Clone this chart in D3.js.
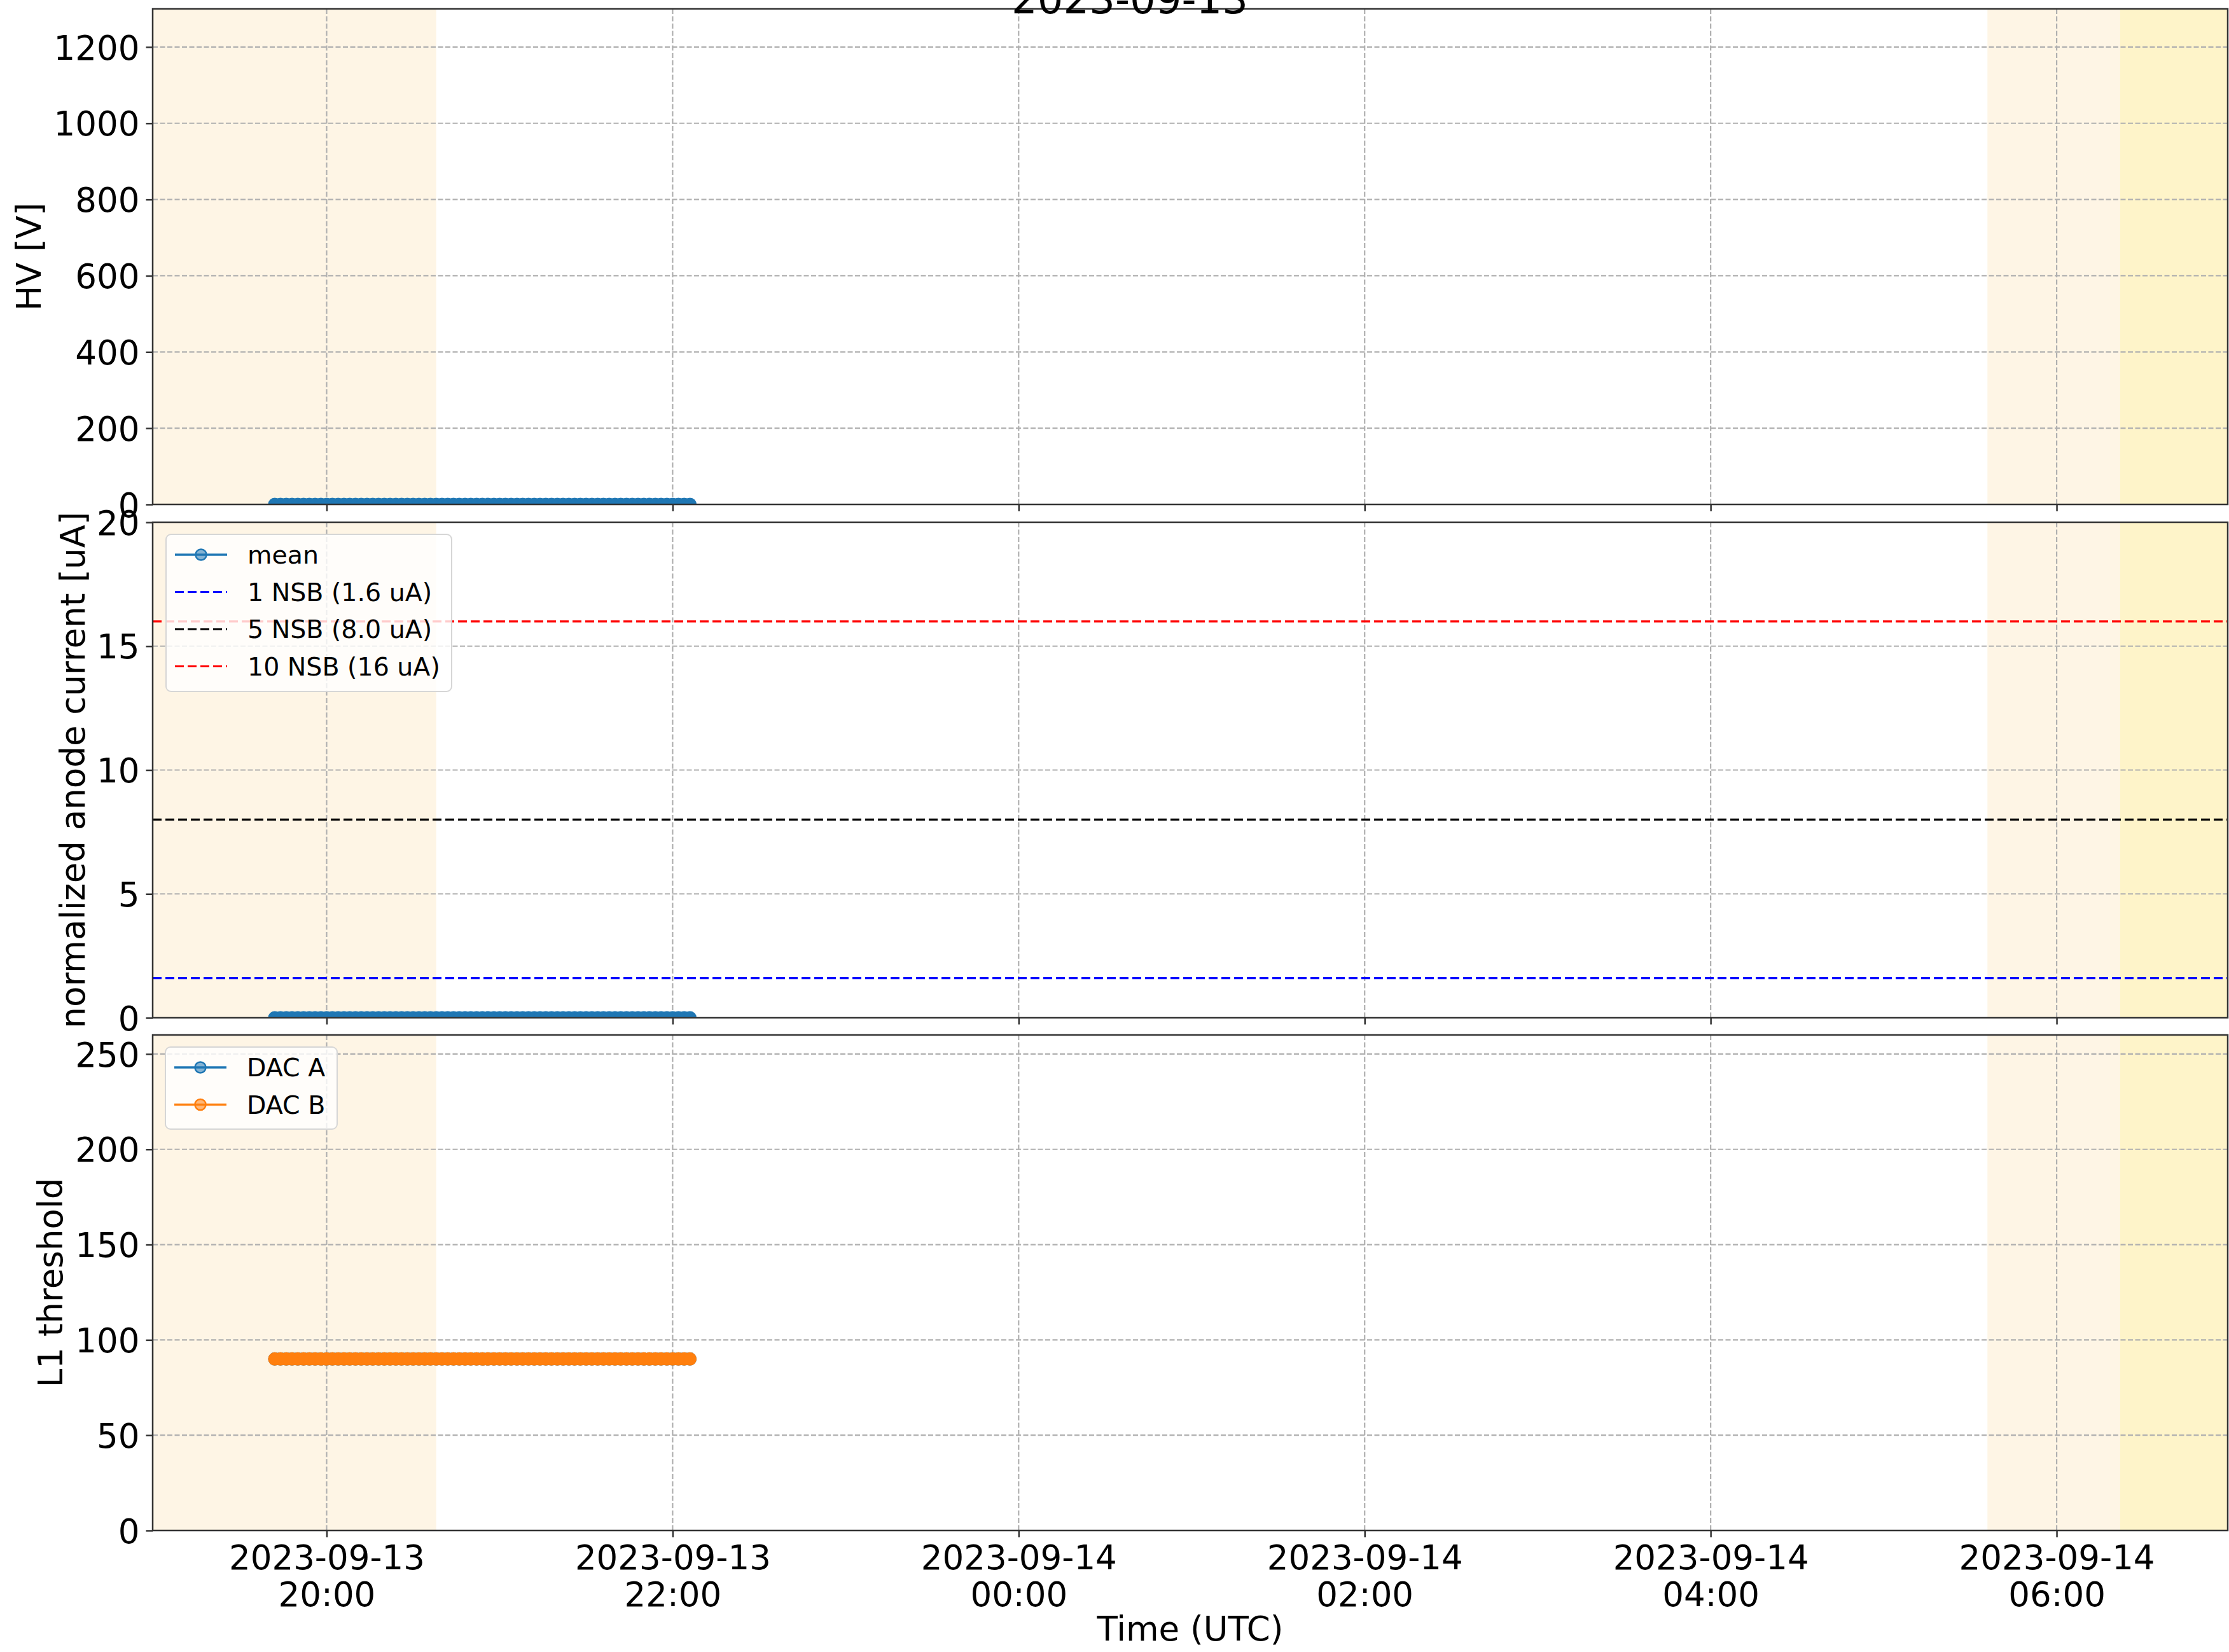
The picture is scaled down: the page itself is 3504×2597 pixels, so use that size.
<!DOCTYPE html>
<html><head><meta charset="utf-8">
<script src="https://cdn.jsdelivr.net/npm/d3@7"></script>
<style>body{margin:0;background:#fff;} svg{display:block;font-family:"DejaVu Sans",sans-serif;}</style>
</head><body><svg id="c" width="3504" height="2597"></svg>
<script>
// ---------------- data ----------------
const titleText = "2023-09-13";
const sampleDate = "2023-09-13";
const sampleTimes = [
  "19:42","19:44","19:46","19:48","19:50","19:52","19:54","19:56","19:58",
  "20:00","20:02","20:04","20:06","20:08","20:10","20:12","20:14","20:16","20:18",
  "20:20","20:22","20:24","20:26","20:28","20:30","20:32","20:34","20:36","20:38",
  "20:40","20:42","20:44","20:46","20:48","20:50","20:52","20:54","20:56","20:58",
  "21:00","21:02","21:04","21:06","21:08","21:10","21:12","21:14","21:16","21:18",
  "21:20","21:22","21:24","21:26","21:28","21:30","21:32","21:34","21:36","21:38",
  "21:40","21:42","21:44","21:46","21:48","21:50","21:52","21:54","21:56","21:58",
  "22:00","22:02","22:04","22:06"
];
const hvMean = [
  0,0,0,0,0,0,0,0,0,
  0,0,0,0,0,0,0,0,0,0,
  0,0,0,0,0,0,0,0,0,0,
  0,0,0,0,0,0,0,0,0,0,
  0,0,0,0,0,0,0,0,0,0,
  0,0,0,0,0,0,0,0,0,0,
  0,0,0,0,0,0,0,0,0,0,
  0,0,0,0
];
const currentMean = [
  0,0,0,0,0,0,0,0,0,
  0,0,0,0,0,0,0,0,0,0,
  0,0,0,0,0,0,0,0,0,0,
  0,0,0,0,0,0,0,0,0,0,
  0,0,0,0,0,0,0,0,0,0,
  0,0,0,0,0,0,0,0,0,0,
  0,0,0,0,0,0,0,0,0,0,
  0,0,0,0
];
const dacA = [
  90,90,90,90,90,90,90,90,90,
  90,90,90,90,90,90,90,90,90,90,
  90,90,90,90,90,90,90,90,90,90,
  90,90,90,90,90,90,90,90,90,90,
  90,90,90,90,90,90,90,90,90,90,
  90,90,90,90,90,90,90,90,90,90,
  90,90,90,90,90,90,90,90,90,90,
  90,90,90,90
];
const dacB = [
  90,90,90,90,90,90,90,90,90,
  90,90,90,90,90,90,90,90,90,90,
  90,90,90,90,90,90,90,90,90,90,
  90,90,90,90,90,90,90,90,90,90,
  90,90,90,90,90,90,90,90,90,90,
  90,90,90,90,90,90,90,90,90,90,
  90,90,90,90,90,90,90,90,90,90,
  90,90,90,90
];
const nsbLevels = [1.6, 8.0, 16];
const nsbLabels = ["1 NSB (1.6 uA)", "5 NSB (8.0 uA)", "10 NSB (16 uA)"];
const xTicks = ["2023-09-13T20:00:00Z","2023-09-13T22:00:00Z","2023-09-14T00:00:00Z",
                "2023-09-14T02:00:00Z","2023-09-14T04:00:00Z","2023-09-14T06:00:00Z"];
const hvTicks = [0,200,400,600,800,1000,1200];
const currentTicks = [0,5,10,15,20];
const l1Ticks = [0,50,100,150,200,250];
const xDomain = ["2023-09-13T18:59:40Z","2023-09-14T06:59:20Z"];
const twilightSpans = [["2023-09-13T18:00:00Z","2023-09-13T20:38:00Z"],
                       ["2023-09-14T05:36:00Z","2023-09-14T06:22:00Z"]];
const daySpans = [["2023-09-14T06:22:00Z","2023-09-14T08:00:00Z"]];

// ---------------- styles / layout ----------------
const C = {blue:"#1f77b4", orange:"#ff7f0e", twilight:"#fef5e5", day:"#fef4c9",
           grid:"#b0b0b0", spine:"#333333", nsb:["#0000ff","#000000","#ff0000"]};
const L = {left:240, right:3502, fs:53, legFs:39.5};

const svg = d3.select("#c");
const parseT = t => new Date(sampleDate + "T" + t + ":00Z");
const times = sampleTimes.map(parseT);
const x = d3.scaleUtc().domain(xDomain.map(d=>new Date(d))).range([L.left, L.right]);

const panels = [
  {top:14, bottom:793, dom:[0,1300], ticks:hvTicks, label:"HV [V]", labelX:64,
   series:[{vals:hvMean, color:C.blue}]},
  {top:821, bottom:1600, dom:[0,20], ticks:currentTicks, label:"normalized anode current [uA]", labelX:133,
   series:[{vals:currentMean, color:C.blue}], refs:true,
   legend:{x:261, y:840, w:449, h:247, rows:[
     {type:"marker", color:C.blue, text:"mean"},
     {type:"dash", color:C.nsb[0], text:nsbLabels[0]},
     {type:"dash", color:C.nsb[1], text:nsbLabels[1]},
     {type:"dash", color:C.nsb[2], text:nsbLabels[2]}]}},
  {top:1627, bottom:2406, dom:[0,260], ticks:l1Ticks, label:"L1 threshold", labelX:98,
   series:[{vals:dacA, color:C.blue},{vals:dacB, color:C.orange}], xlabels:true,
   legend:{x:260, y:1646, w:270, h:129, rows:[
     {type:"marker", color:C.blue, text:"DAC A"},
     {type:"marker", color:C.orange, text:"DAC B"}]}}
];

panels.forEach((p, pi) => {
  const y = d3.scaleLinear().domain(p.dom).range([p.bottom, p.top]);
  const g = svg.append("g");
  const clipId = "clip" + pi;
  svg.append("clipPath").attr("id", clipId).append("rect")
    .attr("x", L.left).attr("y", p.top).attr("width", L.right - L.left).attr("height", p.bottom - p.top);
  const body = g.append("g").attr("clip-path", `url(#${clipId})`);

  // shading
  body.selectAll(".tw").data(twilightSpans).join("rect")
    .attr("x", d => x(new Date(d[0]))).attr("width", d => x(new Date(d[1])) - x(new Date(d[0])))
    .attr("y", p.top).attr("height", p.bottom - p.top).attr("fill", C.twilight);
  body.selectAll(".dy").data(daySpans).join("rect")
    .attr("x", d => x(new Date(d[0]))).attr("width", d => x(new Date(d[1])) - x(new Date(d[0])))
    .attr("y", p.top).attr("height", p.bottom - p.top).attr("fill", C.day);

  // grid
  body.append("g").selectAll("line").data(xTicks).join("line")
    .attr("x1", d => x(new Date(d))).attr("x2", d => x(new Date(d)))
    .attr("y1", p.top).attr("y2", p.bottom)
    .attr("stroke", C.grid).attr("stroke-width", 2.2).attr("stroke-dasharray", "8,3.5");
  body.append("g").selectAll("line").data(p.ticks).join("line")
    .attr("x1", L.left).attr("x2", L.right).attr("y1", d => y(d)).attr("y2", d => y(d))
    .attr("stroke", C.grid).attr("stroke-width", 2.2).attr("stroke-dasharray", "8,3.5");

  // reference lines
  if (p.refs) {
    body.append("g").selectAll("line").data(nsbLevels).join("line")
      .attr("x1", L.left).attr("x2", L.right).attr("y1", d => y(d)).attr("y2", d => y(d))
      .attr("stroke", (d,i) => C.nsb[i]).attr("stroke-width", 3.2).attr("stroke-dasharray", "14,6");
  }

  // data
  p.series.forEach(s => {
    const pts = times.map((t,i) => [t, s.vals[i]]);
    body.append("path").datum(pts)
      .attr("d", d3.line().x(d => x(d[0])).y(d => y(d[1])))
      .attr("fill", "none").attr("stroke", s.color).attr("stroke-width", 3.5);
    body.append("g").selectAll("circle").data(pts).join("circle")
      .attr("cx", d => x(d[0])).attr("cy", d => y(d[1])).attr("r", 9.5)
      .attr("fill", s.color).attr("stroke", s.color).attr("stroke-width", 2);
  });

  // spines
  g.append("rect").attr("x", L.left).attr("y", p.top).attr("width", L.right - L.left)
    .attr("height", p.bottom - p.top).attr("fill", "none").attr("stroke", C.spine).attr("stroke-width", 2.5);

  // y axis
  const ya = g.append("g").attr("transform", `translate(${L.left},0)`)
    .call(d3.axisLeft(y).tickValues(p.ticks).tickSize(10.5).tickPadding(10).tickFormat(d3.format("d")));
  ya.select(".domain").remove();
  ya.selectAll(".tick line").attr("stroke", C.spine).attr("stroke-width", 2.5);
  ya.selectAll(".tick text").attr("font-size", L.fs).attr("font-family", "DejaVu Sans")
    .attr("fill", "#000").attr("dy", "0.36em");

  // x axis
  const xa = g.append("g").attr("transform", `translate(0,${p.bottom})`)
    .call(d3.axisBottom(x).tickValues(xTicks.map(d => new Date(d))).tickSize(10.5).tickFormat(""));
  xa.select(".domain").remove();
  xa.selectAll(".tick line").attr("stroke", C.spine).attr("stroke-width", 2.5);
  if (p.xlabels) {
    xa.selectAll(".tick text").each(function(d) {
      const t = d3.select(this).attr("y", null).attr("dy", null)
        .attr("font-size", L.fs).attr("font-family", "DejaVu Sans").attr("fill", "#000");
      t.append("tspan").attr("x", 0).attr("y", 61).text(d3.utcFormat("%Y-%m-%d")(d));
      t.append("tspan").attr("x", 0).attr("y", 119).text(d3.utcFormat("%H:%M")(d));
    });
  }

  // y label
  g.append("text").attr("transform", `translate(${p.labelX},${(p.top + p.bottom) / 2}) rotate(-90)`)
    .attr("text-anchor", "middle").attr("font-size", L.fs).attr("fill", "#000").text(p.label);

  // legend
  if (p.legend) {
    const lg = p.legend;
    const lgG = g.append("g");
    lgG.append("rect").attr("x", lg.x).attr("y", lg.y).attr("width", lg.w).attr("height", lg.h)
      .attr("rx", 8).attr("fill", "#ffffff").attr("fill-opacity", 0.8)
      .attr("stroke", "#d6d6d6").attr("stroke-width", 2);
    lg.rows.forEach((r, i) => {
      const cy = lg.y + 32 + i * 58.5;
      const line = lgG.append("line").attr("x1", lg.x + 14).attr("x2", lg.x + 96)
        .attr("y1", cy).attr("y2", cy).attr("stroke", r.color);
      if (r.type === "dash") {
        line.attr("stroke-width", 3.2).attr("stroke-dasharray", "14,6");
      } else {
        line.attr("stroke-width", 3.5);
        lgG.append("circle").attr("cx", lg.x + 55).attr("cy", cy).attr("r", 8.5)
          .attr("fill", r.color).attr("fill-opacity", 0.55).attr("stroke", r.color).attr("stroke-width", 2.5);
      }
      lgG.append("text").attr("x", lg.x + 128).attr("y", cy + 14)
        .attr("font-size", L.legFs).attr("fill", "#000").text(r.text);
    });
  }
});

// x label & title
svg.append("text").attr("x", (L.left + L.right) / 2).attr("y", 2579).attr("text-anchor", "middle")
  .attr("font-size", L.fs).attr("fill", "#000").text("Time (UTC)");
svg.append("text").attr("x", 1776).attr("y", 21).attr("text-anchor", "middle")
  .attr("font-size", 64).attr("fill", "#000").text(titleText);
</script></body></html>
